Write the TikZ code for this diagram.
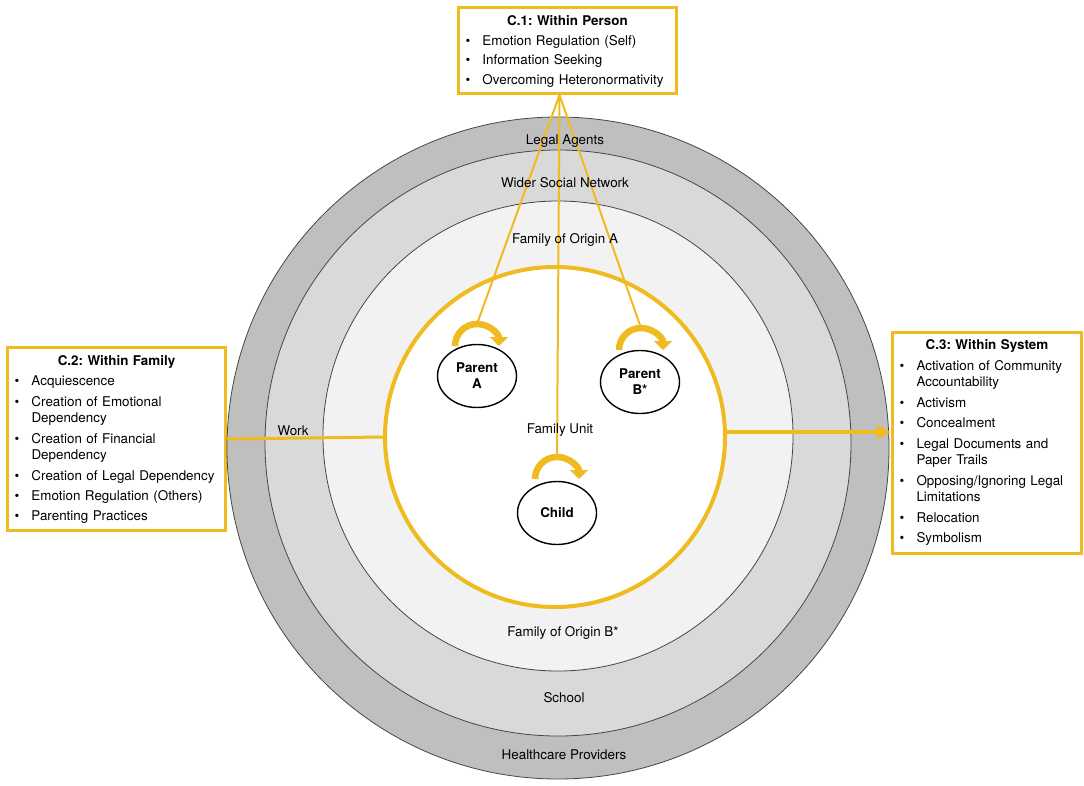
\documentclass[tikz,border=0pt]{standalone}
\usepackage{fontspec}
\setmainfont{TeX Gyre Heros}
\usetikzlibrary{arrows.meta,shapes.geometric,calc}
\definecolor{ylw}{RGB}{239,187,33}
\definecolor{ringA}{RGB}{191,191,191}
\definecolor{ringB}{RGB}{217,217,217}
\definecolor{ringC}{RGB}{242,242,242}
\definecolor{ringline}{RGB}{70,70,70}
\newcommand{\bul}[1]{\makebox[17bp][l]{\textbullet}#1}
\newcommand{\cont}[1]{\\[-3.9bp]\hspace*{17bp}#1}
\frenchspacing
\begin{document}
\begin{tikzpicture}[x=1bp,y=-1bp,
  every node/.style={font=\frenchspacing\fontsize{13.4bp}{20.4bp}\selectfont},
  ring/.style={circle,draw=ringline,line width=0.8bp,inner sep=0},
  cbox/.style={draw=ylw,line width=3bp,fill=white,anchor=north west,inner xsep=7bp,inner ysep=6bp,align=left},
  person/.style={ellipse,draw=black,line width=1.4bp,fill=white,minimum width=79bp,minimum height=63bp,inner sep=0,font=\bfseries\fontsize{13.4bp}{16bp}\selectfont,align=center},
  lbl/.style={anchor=base,inner sep=0},
  conn/.style={draw=ylw,line width=2bp},
  selfloop/.style={draw=ylw,line width=6.5bp,-{Triangle[length=9bp,width=18bp]}},
]
\fill[white] (0,0) rectangle (1084,786);
\useasboundingbox (0,0) rectangle (1084,786);

% boxes
\node[cbox,text width=204bp,text height=12bp,text depth=62bp,font=\frenchspacing\fontsize{13.4bp}{19.7bp}\selectfont] (c1) at (457,6) {%
\makebox[\linewidth][c]{\bfseries C.1: Within Person}\\
\bul{Emotion Regulation (Self)}\\
\bul{Information Seeking}\\
\bul{Overcoming Heteronormativity}};

\node[cbox,text width=204bp,text height=12bp,text depth=159bp] (c2) at (6,346) {%
\makebox[\linewidth][c]{\bfseries C.2: Within Family}\\
\bul{Acquiescence}\\
\bul{Creation of Emotional}\cont{Dependency}\\
\bul{Creation of Financial}\cont{Dependency}\\
\bul{Creation of Legal Dependency}\\
\bul{Emotion Regulation (Others)}\\
\bul{Parenting Practices}};

\node[cbox,text width=175bp,text height=11bp,text depth=198bp,font=\frenchspacing\fontsize{13.4bp}{20.5bp}\selectfont] (c3) at (891,331) {%
\makebox[\linewidth][c]{\bfseries C.3: Within System}\\
\bul{Activation of Community}\cont{Accountability}\\
\bul{Activism}\\
\bul{Concealment}\\
\bul{Legal Documents and}\cont{Paper Trails}\\
\bul{Opposing/Ignoring Legal}\cont{Limitations}\\
\bul{Relocation}\\
\bul{Symbolism}};

% rings
\node[ring,fill=ringA,minimum size=662bp] (legal) at (558,448) {};
\node[ring,fill=ringB,minimum size=586bp] (wider) at (558,443) {};
\node[ring,fill=ringC,minimum size=470bp] (origin) at (558,436) {};
\node[circle,draw=ylw,line width=4bp,fill=white,minimum size=340bp,inner sep=0] (fu) at (555,437) {};

% persons
\node[person] (pa) at (477,376) {Parent\\A};
\node[person] (pb) at (640,382) {Parent\\B*};
\node[person] (ch) at (557,513) {Child};

\coordinate (apex) at ($(c1.south)+(-8,0)$);
\coordinate (paTop) at ($(pa.center)+(0,-52)$);
\coordinate (pbTop) at ($(pb.center)+(1,-54)$);
\coordinate (chTop) at ($(ch.center)+(0,-56)$);

% connectors
\draw[conn] (apex) -- (paTop);
\draw[conn] (apex) -- (chTop);
\draw[conn] (apex) -- (pbTop);
\draw[ylw,line width=3bp] (c2.east) -- (fu.west);
\coordinate (c3in) at ($(c3.west)+(0,-11)$);
\draw[ylw,line width=4bp,-{Triangle[length=14bp,width=13bp]}] (c3in -| fu.east) -- (c3in);

% self loops
\draw[selfloop] ($(paTop)+(-22,22)$) arc[start angle=180,end angle=360,radius=22];
\draw[selfloop] ($(pbTop)+(-22,22)$) arc[start angle=180,end angle=360,radius=22];
\draw[selfloop] ($(chTop)+(-22,22)$) arc[start angle=180,end angle=360,radius=22];

% ring labels
\node[lbl] (tLegal) at (565,144) {Legal Agents};
\node[lbl] (tWider) at (565,187) {Wider Social Network};
\node[lbl] (tFoA) at (565,243) {Family of Origin A};
\node[lbl] (tFoB) at (563,636) {Family of Origin B*};
\node[lbl] (tSchool) at (564,702) {School};
\node[lbl] (tHealth) at (564,759) {Healthcare Providers};
\node[lbl] (tWork) at (293,435) {Work};
\node[lbl] (tFU) at (560,433) {Family Unit};
\end{tikzpicture}
\end{document}
